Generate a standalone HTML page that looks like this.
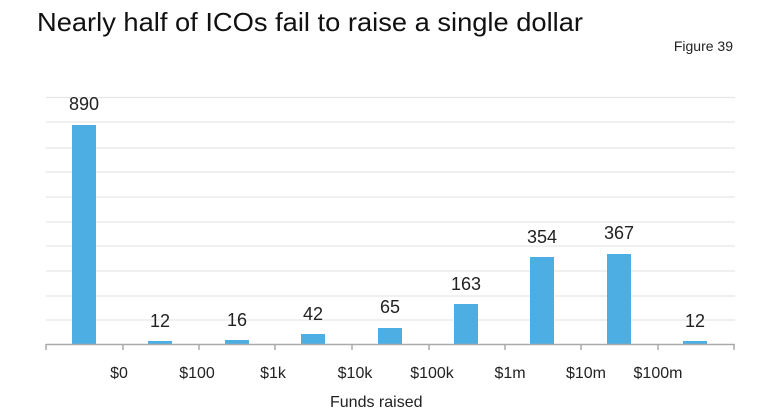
<!DOCTYPE html>
<html><head><meta charset="utf-8"><style>
html,body{margin:0;padding:0;background:#fff;}
svg{display:block;font-family:"Liberation Sans",Arial,sans-serif;}
</style></head><body>
<svg width="775" height="415" viewBox="0 0 775 415">
<text x="37" y="31" font-size="26" fill="#111" textLength="546" lengthAdjust="spacingAndGlyphs">Nearly half of ICOs fail to raise a single dollar</text>
<text x="733" y="51" font-size="14" fill="#222" text-anchor="end">Figure 39</text>
<g stroke="#e6e6e6" stroke-width="1.2">
<line x1="46" x2="735" y1="97.5" y2="97.5"/>
<line x1="46" x2="735" y1="122" y2="122"/>
<line x1="46" x2="735" y1="148" y2="148"/>
<line x1="46" x2="735" y1="172" y2="172"/>
<line x1="46" x2="735" y1="197" y2="197"/>
<line x1="46" x2="735" y1="222" y2="222"/>
<line x1="46" x2="735" y1="246" y2="246"/>
<line x1="46" x2="735" y1="271" y2="271"/>
<line x1="46" x2="735" y1="296" y2="296"/>
<line x1="46" x2="735" y1="320" y2="320"/>
</g>
<g fill="#4daee3">
<rect x="72" y="125" width="24" height="219"/>
<rect x="148" y="341" width="24" height="3"/>
<rect x="225" y="340" width="24" height="4"/>
<rect x="301" y="334" width="24" height="10"/>
<rect x="378" y="328" width="24" height="16"/>
<rect x="454" y="304" width="24" height="40"/>
<rect x="530" y="257" width="24" height="87"/>
<rect x="607" y="254" width="24" height="90"/>
<rect x="683" y="341" width="24" height="3"/>
</g>
<g stroke="#aaa" stroke-width="1.5">
<line x1="46" x2="735" y1="344.5" y2="344.5"/>
<line x1="46" x2="46" y1="344" y2="350"/>
<line x1="123" x2="123" y1="344" y2="350"/>
<line x1="199" x2="199" y1="344" y2="350"/>
<line x1="275" x2="275" y1="344" y2="350"/>
<line x1="352" x2="352" y1="344" y2="350"/>
<line x1="429" x2="429" y1="344" y2="350"/>
<line x1="505" x2="505" y1="344" y2="350"/>
<line x1="581" x2="581" y1="344" y2="350"/>
<line x1="658" x2="658" y1="344" y2="350"/>
<line x1="734" x2="734" y1="344" y2="350"/>
</g>
<g font-size="18" fill="#222" text-anchor="middle">
<text x="84" y="110">890</text>
<text x="160" y="327">12</text>
<text x="237" y="326">16</text>
<text x="313" y="320">42</text>
<text x="390" y="313">65</text>
<text x="466" y="290">163</text>
<text x="542" y="243">354</text>
<text x="619" y="239">367</text>
<text x="695" y="327">12</text>
</g>
<g font-size="16" fill="#222" text-anchor="middle">
<text x="119" y="378">$0</text>
<text x="197" y="378">$100</text>
<text x="273" y="378">$1k</text>
<text x="355" y="378">$10k</text>
<text x="432" y="378">$100k</text>
<text x="510" y="378">$1m</text>
<text x="586" y="378">$10m</text>
<text x="658" y="378">$100m</text>
</g>
<text x="330" y="407" font-size="16" fill="#222">Funds raised</text>
</svg>
</body></html>
